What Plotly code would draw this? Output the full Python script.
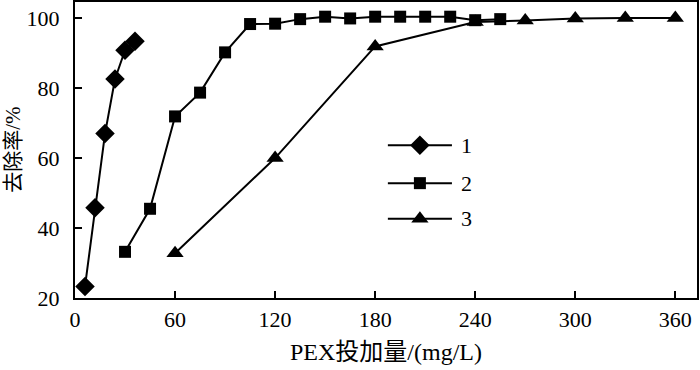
import plotly.graph_objects as go

x1 = [6, 12, 18, 24, 30, 36]
y1 = [23.3, 45.8, 67.0, 82.6, 90.8, 93.4]

x2 = [30, 45, 60, 75, 90, 105, 120, 135, 150, 165, 180, 195, 210, 225, 240, 255]
y2 = [33.2, 45.5, 71.9, 78.7, 90.2, 98.3, 98.4, 99.7, 100.4, 99.9, 100.4, 100.4, 100.4, 100.4, 99.4, 99.7]

x3 = [60, 120, 180, 240, 270, 300, 330, 360]
y3 = [32.8, 60.0, 91.9, 98.9, 99.3, 99.9, 100.0, 100.0]

names = ["1", "2", "3"]
x_ticks = [0, 60, 120, 180, 240, 300, 360]
y_ticks = [20, 40, 60, 80, 100]
x_title = "PEX投加量/(mg/L)"
y_title = "去除率/%"

FONT = "Times New Roman, Liberation Serif, Noto Sans CJK SC, serif"

fig = go.Figure()
series = [(x1, y1, "diamond", 15), (x2, y2, "square", 12), (x3, y3, "triangle-up", 15)]
for i, (xs, ys, sym, sz) in enumerate(series):
    fig.add_trace(go.Scatter(
        x=xs, y=ys, mode="lines+markers", name=names[i], showlegend=False,
        line=dict(color="black", width=2),
        marker=dict(symbol=sym, size=sz, color="black"),
    ))

# custom legend on an overlay axis spanning the plot area (0..1)
leg_x0, leg_x1 = 0.503, 0.606
leg_ys = [0.516, 0.388, 0.268]
for i, (xs, ys, sym, sz) in enumerate(series):
    yy = leg_ys[i]
    fig.add_trace(go.Scatter(
        x=[leg_x0, leg_x1], y=[yy, yy],
        xaxis="x2", yaxis="y2", mode="lines", showlegend=False,
        hoverinfo="skip", line=dict(color="black", width=2),
    ))
    fig.add_trace(go.Scatter(
        x=[(leg_x0 + leg_x1) / 2], y=[yy],
        xaxis="x2", yaxis="y2", mode="markers", showlegend=False,
        hoverinfo="skip",
        marker=dict(symbol=sym, size=sz, color="black",
                    line=dict(color="black", width=0)),
    ))
    fig.add_annotation(x=leg_x1 + 0.012, y=yy, xref="x2", yref="y2",
                       text=names[i], showarrow=False, xanchor="left",
                       yanchor="middle", font=dict(size=22))

fig.add_annotation(x=0.5, y=-0.183, xref="paper", yref="paper",
                   text=x_title, showarrow=False, xanchor="center",
                   yanchor="middle", font=dict(size=24))
fig.add_annotation(x=-0.1, y=0.5, xref="paper", yref="paper",
                   text=y_title, showarrow=False, textangle=-90,
                   xanchor="center", yanchor="middle", font=dict(size=21))

fig.update_layout(
    width=700, height=370,
    margin=dict(l=75, r=3, t=2, b=72),
    paper_bgcolor="white", plot_bgcolor="white",
    font=dict(family=FONT, size=22, color="black"),
    showlegend=False,
    xaxis2=dict(overlaying="x", range=[0, 1], visible=False, fixedrange=True),
    yaxis2=dict(overlaying="y", range=[0, 1], visible=False, fixedrange=True),
)
fig.layout.xaxis.update(range=[0, 373], tickvals=x_ticks, ticks="inside", ticklen=7,
                        tickwidth=1.5, tickcolor="black", automargin=False,
                        ticklabelstandoff=1,
                        showline=True, linecolor="black", linewidth=2, mirror=True,
                        showgrid=False, zeroline=False)
fig.layout.yaxis.update(range=[20, 104.6], tickvals=y_ticks, ticks="inside", ticklen=7,
                        tickwidth=1.5, tickcolor="black", automargin=False,
                        ticklabelstandoff=9,
                        showline=True, linecolor="black", linewidth=2, mirror=True,
                        showgrid=False, zeroline=False)

fig.write_html("out.html", config={"displayModeBar": False},
               post_script="document.body.style.margin='0';")
